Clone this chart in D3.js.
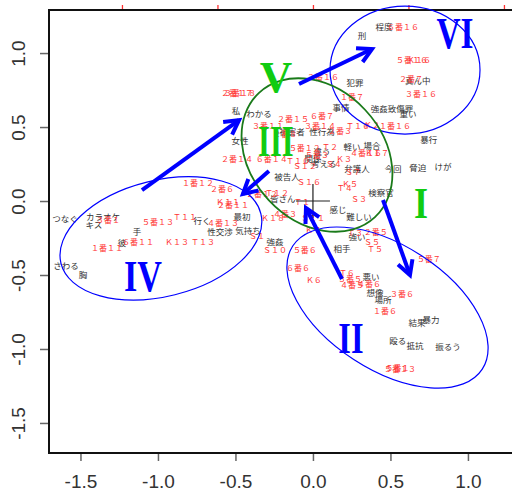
<!DOCTYPE html>
<html>
<head>
<meta charset="utf-8">
<script src="https://cdnjs.cloudflare.com/ajax/libs/d3/7.8.5/d3.min.js"></script>
<style>
  body { margin: 0; background: #fff; }
</style>
</head>
<body>
<svg id="chart" width="512" height="495"></svg>
<script>
// tick values
var xTicks = [-1.5, -1.0, -0.5, 0.0, 0.5, 1.0];
var yTicks = [-1.5, -1.0, -0.5, 0.0, 0.5, 1.0];
var topTicks = [-2, -1, 0, 1, 2];

// row points (words): label, dim1, dim2
var words = [
  ["刑", 0.316, 1.115], ["程度", 0.458, 1.176], ["犯罪", 0.271, 0.797],
  ["真ん中", 0.677, 0.811], ["事情", 0.181, 0.628], ["強姦致傷罪", 0.510, 0.622],
  ["重い", 0.613, 0.588], ["暴行", 0.748, 0.412], ["私", -0.497, 0.608],
  ["わかる", -0.348, 0.588], ["女性", -0.471, 0.405], ["被害者", -0.135, 0.466],
  ["性行為", 0.058, 0.466], ["軽い", 0.252, 0.365], ["場合", 0.381, 0.372],
  ["違う", 0.058, 0.331], ["関係", 0.0, 0.284], ["考える", 0.071, 0.250],
  ["弁護人", 0.284, 0.216], ["今回", 0.516, 0.216], ["脅迫", 0.677, 0.223],
  ["けが", 0.839, 0.230], ["被告人", -0.168, 0.162], ["検察官", 0.439, 0.054],
  ["皆さん", -0.194, 0.014], ["感じ", 0.161, -0.061], ["難しい", 0.297, -0.108],
  ["つなぐ", -1.600, -0.122], ["カラオケ", -1.355, -0.108], ["キス", -1.413, -0.162],
  ["手", -1.135, -0.209], ["彼", -1.232, -0.284], ["行く", -0.716, -0.135],
  ["最初", -0.458, -0.108], ["性交渉", -0.600, -0.209], ["気持ち", -0.419, -0.203],
  ["強姦", -0.245, -0.277], ["相手", 0.187, -0.324], ["強い", 0.284, -0.243],
  ["さわる", -1.594, -0.439], ["胸", -1.484, -0.500], ["悪い", 0.374, -0.514],
  ["想像", 0.400, -0.622], ["場所", 0.452, -0.669], ["結果", 0.671, -0.824],
  ["暴力", 0.761, -0.804], ["殴る", 0.548, -0.946], ["抵抗", 0.658, -0.980],
  ["振るう", 0.871, -0.986]
];

// column points (speakers): label, dim1, dim2
var speakers = [
  ["６番１６", 0.581, 1.176], ["５番１６", 0.639, 0.953], ["Ｋ１６", 0.684, 0.953],
  ["２番７", 0.632, 0.824], ["３番１６", 0.697, 0.723], ["１番７", 0.252, 0.703],
  ["２番１６", 0.065, 0.838], ["Ｔ１６", 0.290, 0.507], ["Ｋ２", 0.381, 0.514],
  ["１番１６", 0.529, 0.507], ["２番１７", -0.490, 0.730], ["３番１８", -0.471, 0.730],
  ["２番１５", -0.129, 0.554], ["６番７", 0.058, 0.574], ["３番１４", 0.045, 0.507],
  ["２番３", 0.174, 0.473], ["３番１１", -0.290, 0.507], ["２番８", -0.181, 0.453],
  ["５番１２", -0.052, 0.358], ["Ｔ２", 0.110, 0.365], ["５番３", 0.026, 0.311],
  ["Ｋ３", 0.200, 0.284], ["４番１６", 0.342, 0.325], ["Ｋ１７", 0.413, 0.325],
  ["２番１４", -0.490, 0.284], ["６番１４", -0.265, 0.284], ["Ｔ１０", -0.097, 0.270],
  ["Ｓ１２", -0.052, 0.236], ["Ｓ４", 0.135, 0.250], ["Ｓ７", 0.258, 0.196],
  ["Ｓ１６", -0.026, 0.128], ["Ｋ５", 0.239, 0.115], ["Ｔ４", 0.206, 0.088],
  ["Ｓ３", 0.297, 0.014], ["１番１２", -0.742, 0.122], ["２番６", -0.587, 0.081],
  ["Ｋ１１", -0.548, -0.007], ["２番１１", -0.516, -0.027], ["２番１２", -0.329, 0.047],
  ["Ｔ１２", -0.232, 0.054], ["Ｔ１", -0.071, -0.007], ["３番１", -1.323, -0.128],
  ["５番１３", -1.000, -0.142], ["Ｔ１１", -0.826, -0.108], ["４番１３", -0.581, -0.149],
  ["６番１１", -1.129, -0.277], ["１番１１", -1.329, -0.318], ["Ｋ１３", -0.877, -0.277],
  ["Ｔ１３", -0.710, -0.277], ["Ｋ１８", -0.258, -0.115], ["４番３", -0.181, -0.088],
  ["Ｓ１１", 0.0, -0.115], ["Ｋ７", 0.0, -0.196], ["Ｓ１", -0.361, -0.236],
  ["Ｓ１０", -0.245, -0.331], ["５番６", -0.052, -0.331], ["６番６", -0.097, -0.453],
  ["Ｋ６", 0.006, -0.534], ["Ｔ３", 0.271, -0.216], ["２番５", 0.406, -0.209],
  ["Ｓ５", 0.381, -0.277], ["Ｔ５", 0.400, -0.324], ["５番７", 0.748, -0.392],
  ["Ｔ６", 0.219, -0.486], ["３番５", 0.239, -0.527], ["４番５", 0.252, -0.568],
  ["４番６", 0.361, -0.561], ["３番６", 0.574, -0.628], ["１番６", 0.465, -0.743],
  ["５番１３", 0.561, -1.135], ["５番１", 0.545, -1.128]
];

// cluster annotations: numeral, dim1, dim2
var clusterNames = [
  ["V", -0.239, 0.838], ["III", -0.239, 0.405], ["I", 0.697, -0.014],
  ["VI", 0.916, 1.135], ["IV", -1.097, -0.507], ["II", 0.245, -0.926]
];
var clusterCenters = [
  [0.594, 0.885], [-0.981, -0.253], [0.481, -0.720], [0.026, 0.311]
];
// arrows: from (dim1, dim2) to (dim1, dim2)
var arrows = [
  [-1.103, 0.074, -0.477, 0.547],
  [-0.090, 0.791, 0.381, 1.027],
  [-0.284, 0.203, -0.452, 0.047],
  [0.187, -0.527, -0.045, -0.047],
  [0.452, 0.007, 0.626, -0.500]
];

var svg = d3.select("#chart");

var x = d3.scaleLinear().domain([-1.703, 1.594]).range([49, 560]);
var y = d3.scaleLinear().domain([-1.703, 1.291]).range([453, 10]);
var xTop = d3.scaleLinear().domain([-2.764, 2.587]).range([49, 560]);

var fmt = function (d) { return d.toFixed(1); };

// axes
var gx = svg.append("g")
    .attr("transform", "translate(0,453)")
    .call(d3.axisBottom(x).tickValues(xTicks).tickSize(8).tickPadding(14).tickFormat(fmt));
var gy = svg.append("g")
    .attr("transform", "translate(49,0)")
    .call(d3.axisLeft(y).tickValues(yTicks).tickSize(9).tickFormat(fmt));
var gt = svg.append("g")
    .attr("transform", "translate(0,10)")
    .call(d3.axisTop(xTop).tickValues(topTicks).tickSize(5).tickFormat(""));

[gx, gy].forEach(function (g) {
  g.select(".domain").remove();
  g.selectAll("line").attr("stroke", "#666").attr("stroke-width", 1.5);
  g.selectAll("text")
    .attr("fill", "#333")
    .style("font-family", "'Liberation Sans', Arial, sans-serif")
    .style("font-size", "19px");
});
gy.selectAll("text")
    .attr("x", 0).attr("dy", 0)
    .attr("text-anchor", "middle")
    .attr("transform", "translate(-24,0) rotate(-90)");
gt.select(".domain").remove();
gt.selectAll("line").attr("stroke", "#ff3030").attr("stroke-width", 1.3);

// plot box
svg.append("rect")
    .attr("x", 49).attr("y", 10)
    .attr("width", 560).attr("height", 443)
    .attr("fill", "none").attr("stroke", "#111").attr("stroke-width", 2);

// words
svg.append("g").selectAll("text")
    .data(words).enter().append("text")
    .attr("x", function (d) { return x(d[1]); })
    .attr("y", function (d) { return y(d[2]); })
    .attr("dy", "0.35em")
    .attr("text-anchor", "middle")
    .attr("fill", "#333")
    .style("font-family", "'Noto Sans CJK JP', sans-serif")
    .style("font-size", "8.5px")
    .text(function (d) { return d[0]; });

// speakers
svg.append("g").selectAll("text")
    .data(speakers).enter().append("text")
    .attr("x", function (d) { return x(d[1]); })
    .attr("y", function (d) { return y(d[2]); })
    .attr("dy", "0.35em")
    .attr("text-anchor", "middle")
    .attr("fill", "#ff3333")
    .style("font-family", "'Noto Sans CJK JP', sans-serif")
    .style("font-size", "8px")
    .text(function (d) { return d[0]; });

// origin cross
svg.append("path")
    .attr("d", "M" + (x(0) - 17) + "," + y(0) + "H" + (x(0) + 17) +
               "M" + x(0) + "," + (y(0) - 17) + "V" + (y(0) + 17))
    .attr("stroke", "#222").attr("stroke-width", 1.2);

// ellipses (pixel radii and rotation)
var ellipseStyle = [
  { a: 75, b: 64, rot: 0, color: "#0000ff", w: 1.2 },
  { a: 103, b: 58, rot: -14, color: "#0000ff", w: 1.2 },
  { a: 113, b: 62, rot: 33, color: "#0000ff", w: 1.2 },
  { a: 85, b: 66, rot: 47, color: "#1a7a1a", w: 1.8 }
];
svg.append("g").selectAll("ellipse")
    .data(clusterCenters).enter().append("ellipse")
    .attr("transform", function (d, i) {
      return "translate(" + x(d[0]) + "," + y(d[1]) + ") rotate(" + ellipseStyle[i].rot + ")";
    })
    .attr("rx", function (d, i) { return ellipseStyle[i].a; })
    .attr("ry", function (d, i) { return ellipseStyle[i].b; })
    .attr("fill", "none")
    .attr("stroke", function (d, i) { return ellipseStyle[i].color; })
    .attr("stroke-width", function (d, i) { return ellipseStyle[i].w; });

// arrows
var arrowG = svg.append("g")
    .attr("stroke", "#0000ff").attr("stroke-width", 4).attr("fill", "none");
arrows.forEach(function (a) {
  var x1 = x(a[0]), y1 = y(a[1]), x2 = x(a[2]), y2 = y(a[3]);
  var ang = Math.atan2(y2 - y1, x2 - x1), len = 16, sp = 0.5;
  var p1 = [x2 - len * Math.cos(ang - sp), y2 - len * Math.sin(ang - sp)];
  var p2 = [x2 - len * Math.cos(ang + sp), y2 - len * Math.sin(ang + sp)];
  arrowG.append("path")
      .attr("d", "M" + x1 + "," + y1 + "L" + x2 + "," + y2);
  arrowG.append("path")
      .attr("stroke-linejoin", "miter")
      .attr("d", "M" + p1[0] + "," + p1[1] + "L" + x2 + "," + y2 + "L" + p2[0] + "," + p2[1]);
});

// roman numerals
var numeralColor = { "V": "#11cc11", "III": "#11cc11", "I": "#11cc11",
                     "VI": "#0000ff", "IV": "#0000ff", "II": "#0000ff" };
var numeralScale = { "V": 1.0, "III": 0.68, "I": 0.8, "VI": 0.74, "IV": 0.76, "II": 0.72 };
svg.append("g").selectAll("text")
    .data(clusterNames).enter().append("text")
    .attr("transform", function (d) {
      return "translate(" + x(d[1]) + "," + (y(d[2]) + 15) + ") scale(" + numeralScale[d[0]] + ",1)";
    })
    .attr("text-anchor", "middle")
    .attr("fill", function (d) { return numeralColor[d[0]]; })
    .style("font-family", "'Liberation Serif', 'Times New Roman', serif")
    .style("font-weight", "bold")
    .style("font-size", "45px")
    .text(function (d) { return d[0]; });
</script>
</body>
</html>
